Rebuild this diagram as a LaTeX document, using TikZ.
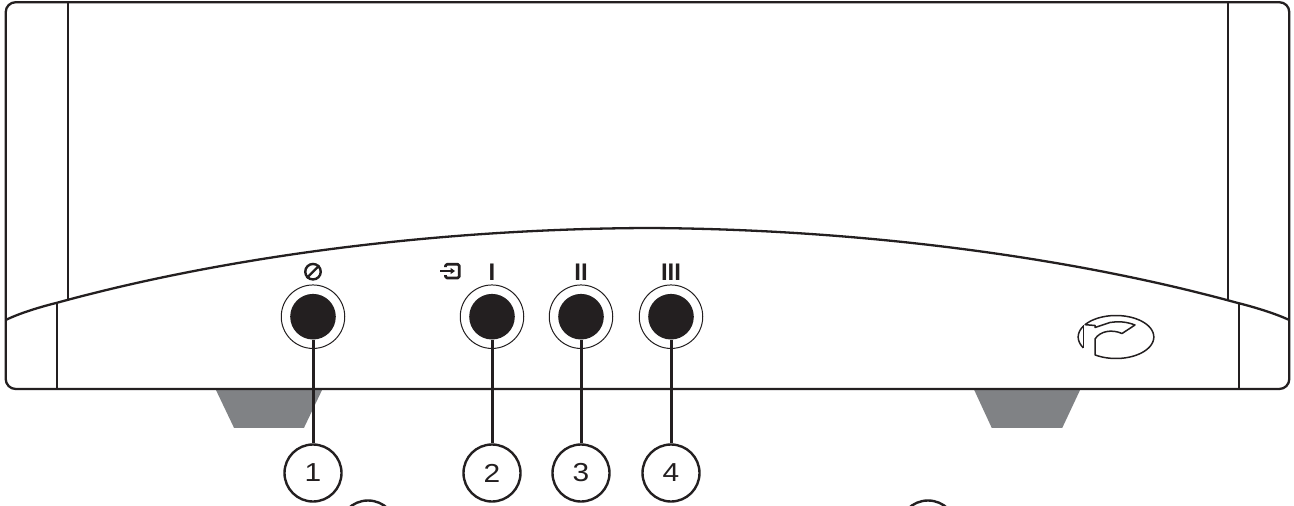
\documentclass[tikz,border=0pt]{standalone}
\usepackage{graphicx}
\usepackage{fontspec}
\setmainfont{Liberation Sans}
\definecolor{ink}{HTML}{231F20}
\definecolor{footgray}{HTML}{808285}
\newcommand{\widedigit}[1]{\scalebox{1.15}[1]{#1}}
\tikzset{
  body/.style={draw=ink,line width=2.3pt,line join=round},
  seam/.style={draw=ink,line width=2pt},
  foot/.style={fill=footgray,draw=none},
  ring/.style={circle,draw=ink,line width=1pt,fill=white,minimum size=63.5pt,inner sep=0pt},
  knob/.style={circle,fill=ink,draw=none,minimum size=45.6pt,inner sep=0pt},
  callout/.style={circle,draw=ink,line width=2.4pt,fill=white,minimum size=57pt,inner sep=0pt,font=\fontsize{26}{26}\selectfont,text=ink},
  lead/.style={draw=ink,line width=3pt},
  legend/.style={inner sep=0pt,font=\fontsize{24}{24}\selectfont\bfseries,text=ink},
  logoline/.style={draw=ink,line width=1.5pt,line join=round}
}
\begin{document}
\begin{tikzpicture}[x=1pt,y=-1pt]
\clip (0,0) rectangle (1294,506);
\fill[white] (0,0) rectangle (1294,506);
% feet
\path[foot] (215,388) -- (323,388) -- (304,427.8) -- (234,427.8) -- cycle;
\path[foot] (973.3,388) -- (1081,388) -- (1062.3,427.8) -- (991.7,427.8) -- cycle;
% body
\draw[body,rounded corners=10pt] (5.7,2.2) rectangle (1289.3,389);
\draw[body] (5.7,320) .. controls (20,313) and (40,307) .. (58,302.5)
  .. controls (220,258) and (430,229) .. (647,228)
  .. controls (864,229) and (1074,258) .. (1236,302.5)
  .. controls (1254,307) and (1274,313) .. (1289.3,320);
\draw[seam] (68,2.2) -- (68,299.5);
\draw[seam] (57.3,302.5) -- (57.3,389);
\draw[seam] (1228,2.2) -- (1228,299.5);
\draw[seam] (1238.7,302.5) -- (1238.7,389);
% knobs
\foreach \n/\x in {1/313,2/492,3/581,4/671}{
  \node[ring] (r\n) at (\x,316.7) {};
  \node[knob] (k\n) at (\x,316.7) {};
}
% callouts
\node[callout] (c1) at (313,473) {\widedigit{1}};
\node[callout] (c2) at (492,473) {\widedigit{2}};
\node[callout] (c3) at (581,473) {\widedigit{3}};
\node[callout] (c4) at (671,473) {\widedigit{4}};
\node[callout] (c5) at (368,529) {};
\node[callout] (c6) at (928,529) {};
\foreach \n in {1,2,3,4}{ \draw[lead] (k\n.south) -- (c\n.north); }
% legends
\node[circle,draw=ink,line width=2.4pt,minimum size=15.5pt,inner sep=0pt] (off) at (313,271.7) {};
\draw[draw=ink,line width=2.4pt] (off.225) -- (off.45);
\node[legend] (t1) at (492,272) {I};
\node[legend] (t2) at (581,272) {II};
\node[legend] (t3) at (671,272) {III};
% input symbol
\draw[draw=ink,line width=2.7pt,line join=round,rounded corners=1.5pt] (445.5,267) -- (445.5,264.3) -- (459.3,264.3) -- (459.3,278) -- (445.5,278) -- (445.5,275);
\draw[draw=ink,line width=2.4pt] (440,271) -- (451,271);
\fill[ink] (455,271) -- (450.5,267.8) -- (450.5,274.2) -- cycle;
% logo
\draw[logoline] plot[domain=124:-145,samples=70] ({1116+37.8*cos(\x)},{337+21.5*sin(\x)})
  -- (1095,325.5) -- (1095,327.5) -- (1110,322.5) .. controls (1120,321) and (1127,322) .. (1135,325)
  -- (1122,333.5) .. controls (1112,329) and (1100,331) .. (1095,339) -- (1095,355);
\draw[logoline] (1083.4,325) -- (1083.4,348);
\draw[logoline] plot[domain=150:210,samples=20] ({1116+37.8*cos(\x)},{337+21.5*sin(\x)});
\end{tikzpicture}
\end{document}
